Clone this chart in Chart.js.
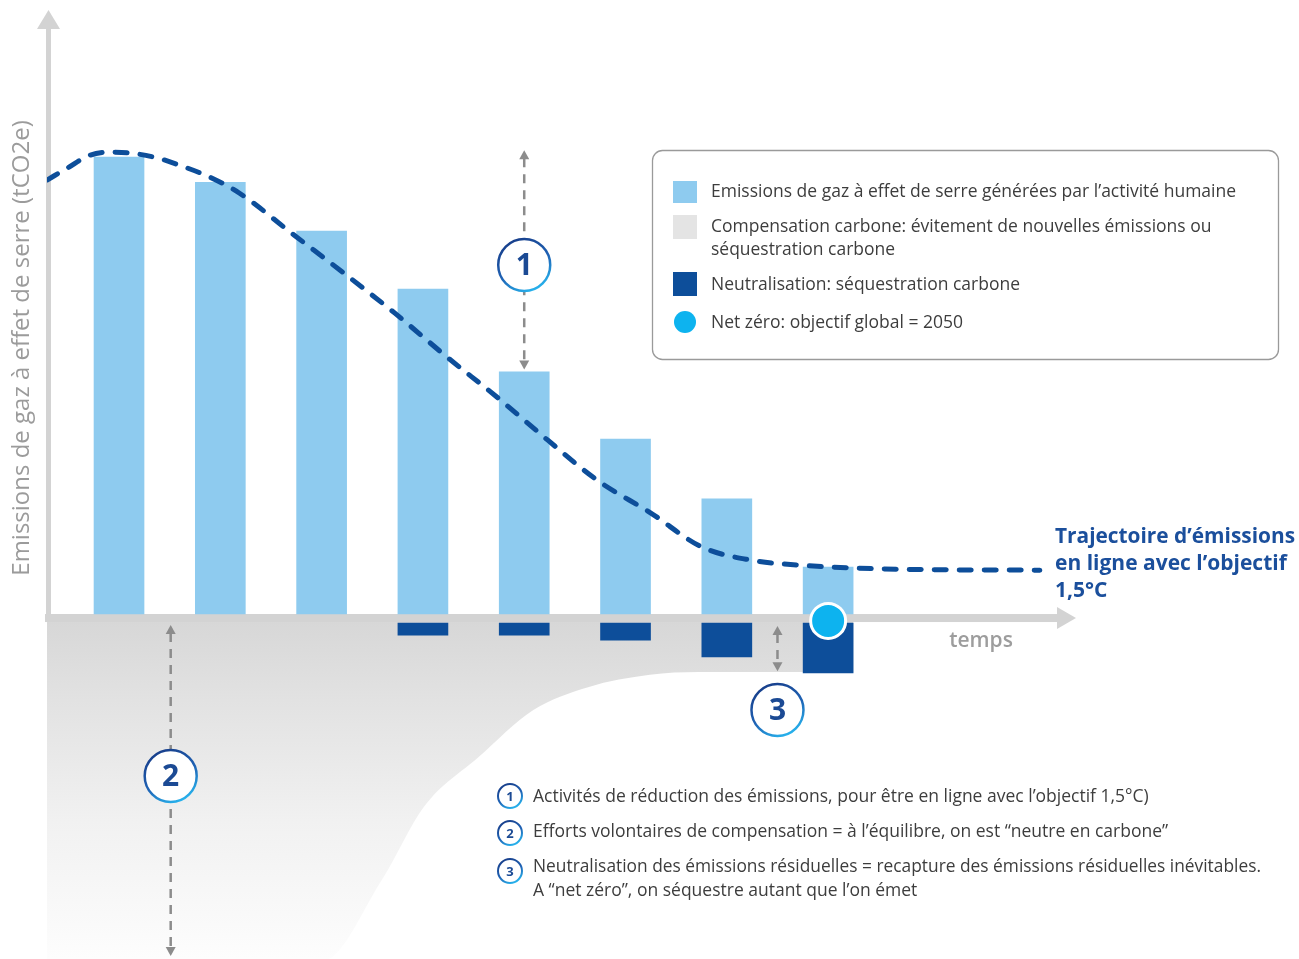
<!DOCTYPE html>
<html lang="fr">
<head>
<meta charset="utf-8">
<title>Trajectoire net zéro</title>
<script src="https://cdn.jsdelivr.net/npm/chart.js@4.4.1/dist/chart.umd.min.js"></script>
<style>
  html, body { margin: 0; padding: 0; background: #fff; }
  canvas { display: block; }
</style>
</head>
<body>
<canvas id="chart" width="1299" height="959"></canvas>
<script>
'use strict';

// time steps (one bar per step) and emissions (tallest bar = 100)
const steps = [0, 1, 2, 3, 4, 5, 6, 7];
const emissions = [100, 94.5, 83.8, 71.1, 53.0, 38.3, 25.2, 10.3];

// neutralisation bars (below the axis), start / end of each floating bar
const neutralStart = [null, null, null, -2.0, -2.0, -2.0, -2.0, -2.0];
const neutralEnd = [null, null, null, -4.6, -4.6, -5.7, -9.4, -12.9];

// 1.5°C trajectory (dashed line)
const trajX = [-0.71, -0.51, -0.29, -0.09, 0.11, 0.38, 0.60, 0.90, 1.19, 1.73, 2.22, 2.72, 3.24, 3.73, 4.23, 4.72, 5.25, 5.75, 6.24, 6.72, 7.71, 9.09];
const trajY = [95.0, 97.6, 100.4, 101.1, 100.9, 99.8, 98.2, 95.6, 92.1, 82.9, 74.6, 65.9, 56.2, 47.5, 38.1, 29.3, 22.1, 14.7, 11.8, 10.7, 9.8, 9.6];

// lower edge of the grey "compensation" area
const compX = [-0.711, 2.0, 2.6, 3.01, 3.55, 4.09, 4.63, 5.24, 5.72, 7.25];
const compY = [-76, -76, -58, -42.2, -31.3, -21.0, -16.0, -13.3, -12.7, -12.7];

// net zero point
const netZeroX = [7];
const netZeroY = [-1.5];

const legendLabels = [
  ['Emissions de gaz à effet de serre générées par l’activité humaine'],
  ['Compensation carbone: évitement de nouvelles émissions ou', 'séquestration carbone'],
  ['Neutralisation: séquestration carbone'],
  ['Net zéro: objectif global = 2050']
];
const notes = [
  ['Activités de réduction des émissions, pour être en ligne avec l’objectif 1,5°C)'],
  ['Efforts volontaires de compensation = à l’équilibre, on est “neutre en carbone”'],
  ['Neutralisation des émissions résiduelles = recapture des émissions résiduelles inévitables.', 'A “net zéro”, on séquestre autant que l’on émet']
];
const trajLabel = ['Trajectoire d’émissions', 'en ligne avec l’objectif', '1,5°C'];

const LIGHT = '#8ecbef';
const DARK = '#0d4e9a';
const CYAN = '#0db3ef';
const AXIS = '#d3d3d3';
const ARROW = '#8c8c8c';
const FONT = '"Open Sans", "Noto Sans", sans-serif';

function zip(xs, ys) {
  return xs.map((x, i) => ({ x: x, y: ys[i] }));
}

function txt(ctx, s, x, y, size, weight, color, maxW, align) {
  ctx.font = weight + ' ' + size + 'px ' + FONT;
  ctx.fillStyle = color;
  ctx.textAlign = align || 'left';
  ctx.textBaseline = 'middle';
  if (maxW) ctx.fillText(s, x, y, maxW);
  else ctx.fillText(s, x, y);
}

function badge(ctx, x, y, r, n, lw, size) {
  let g = ctx.createLinearGradient(x - r * 0.6, y - r, x + r * 0.4, y + r);
  g.addColorStop(0, '#173c88');
  g.addColorStop(0.55, '#1f62b4');
  g.addColorStop(1, '#27b4ee');
  ctx.beginPath();
  ctx.arc(x, y, r, 0, Math.PI * 2);
  ctx.fillStyle = '#fff';
  ctx.fill();
  ctx.lineWidth = lw;
  ctx.strokeStyle = g;
  ctx.stroke();
  txt(ctx, String(n), x, y + 1, size, 'bold', '#1b4a94', null, 'center');
}

function vArrow(ctx, x, y1, y2) {
  ctx.save();
  ctx.strokeStyle = ARROW;
  ctx.fillStyle = ARROW;
  ctx.lineWidth = 2.5;
  ctx.setLineDash([9, 7]);
  ctx.beginPath();
  ctx.moveTo(x, y1 + 8);
  ctx.lineTo(x, y2 - 8);
  ctx.stroke();
  ctx.setLineDash([]);
  ctx.beginPath();
  ctx.moveTo(x, y1); ctx.lineTo(x - 5, y1 + 9); ctx.lineTo(x + 5, y1 + 9); ctx.closePath();
  ctx.fill();
  ctx.beginPath();
  ctx.moveTo(x, y2); ctx.lineTo(x - 5, y2 - 9); ctx.lineTo(x + 5, y2 - 9); ctx.closePath();
  ctx.fill();
  ctx.restore();
}

function roundRect(ctx, x, y, w, h, r) {
  ctx.beginPath();
  ctx.moveTo(x + r, y);
  ctx.arcTo(x + w, y, x + w, y + h, r);
  ctx.arcTo(x + w, y + h, x, y + h, r);
  ctx.arcTo(x, y + h, x, y, r);
  ctx.arcTo(x, y, x + w, y, r);
  ctx.closePath();
}

// axes with arrow heads, drawn right after the grey area so they sit under the bars' marks
const axesPlugin = {
  id: 'axes',
  afterDatasetDraw(chart, args) {
    if (args.index !== 0) return;
    const ctx = chart.ctx;
    const y0 = chart.scales.y.getPixelForValue(0) + 4;
    ctx.save();
    ctx.fillStyle = AXIS;
    ctx.fillRect(46, 28, 5, y0 - 28 + 4);
    ctx.beginPath();
    ctx.moveTo(48.5, 10); ctx.lineTo(60, 29); ctx.lineTo(37, 29); ctx.closePath();
    ctx.fill();
    ctx.fillRect(45, y0 - 4, 1013, 8);
    ctx.beginPath();
    ctx.moveTo(1076, y0); ctx.lineTo(1057, y0 - 11); ctx.lineTo(1057, y0 + 11); ctx.closePath();
    ctx.fill();
    ctx.restore();
  }
};

// text, legend, numbered markers
const annotations = {
  id: 'annotations',
  afterDraw(chart) {
    const ctx = chart.ctx;
    const xs = chart.scales.x, ys = chart.scales.y;
    ctx.save();

    // y axis title
    ctx.save();
    ctx.translate(22, 348);
    ctx.rotate(-Math.PI / 2);
    txt(ctx, 'Emissions de gaz à effet de serre (tCO2e)', 0, 0, 24, 'normal', '#9b9b9b', 466, 'center');
    ctx.restore();

    txt(ctx, 'temps', 981, 641, 21, '600', '#9d9d9d', 70, 'center');

    trajLabel.forEach((s, i) => {
      txt(ctx, s, 1055, 537 + i * 27, 21, 'bold', '#1b4f9c', i < 2 ? 240 : 56);
    });

    // arrows + badges
    const ax1 = xs.getPixelForValue(4);
    vArrow(ctx, ax1, ys.getPixelForValue(101.5), ys.getPixelForValue(53.5));
    badge(ctx, ax1, 265, 26, 1, 2.5, 30);

    const ax2 = xs.getPixelForValue(0.51);
    vArrow(ctx, ax2, ys.getPixelForValue(-2.4), 956);
    badge(ctx, ax2, 776, 26, 2, 2.5, 30);

    const ax3 = xs.getPixelForValue(6.5);
    vArrow(ctx, ax3, ys.getPixelForValue(-2.6), ys.getPixelForValue(-12.5));
    badge(ctx, ax3, 710, 26, 3, 2.5, 30);

    // legend box
    roundRect(ctx, 652.5, 150.5, 626, 209, 10);
    ctx.fillStyle = '#fff';
    ctx.fill();
    ctx.lineWidth = 1.3;
    ctx.strokeStyle = '#9a9a9a';
    ctx.stroke();

    ctx.fillStyle = LIGHT;
    ctx.fillRect(673, 181, 24, 22);
    ctx.fillStyle = '#e4e4e4';
    ctx.fillRect(673, 215, 24, 24);
    ctx.fillStyle = DARK;
    ctx.fillRect(673, 272, 24, 24);
    ctx.beginPath();
    ctx.arc(685, 322, 11, 0, Math.PI * 2);
    ctx.fillStyle = CYAN;
    ctx.fill();

    const legY = [[192], [227, 250], [285], [323]];
    const legW = [[530], [503, 184], [309], [263]];
    legendLabels.forEach((lines, i) => {
      lines.forEach((s, j) => txt(ctx, s, 711, legY[i][j], 17.5, 'normal', '#3d3d3d', legW[i][j]));
    });

    // footnotes
    const noteY = [[797], [832], [867, 891]];
    const noteW = [[631], [651], [728, 399]];
    const iconY = [796, 833, 871];
    notes.forEach((lines, i) => {
      badge(ctx, 510, iconY[i], 12, i + 1, 2, 13);
      lines.forEach((s, j) => txt(ctx, s, 533, noteY[i][j], 17.5, 'normal', '#3d3d3d', noteW[i][j]));
    });

    ctx.restore();
  }
};

const ctx = document.getElementById('chart').getContext('2d');

new Chart(ctx, {
  type: 'bar',
  data: {
    datasets: [
      {
        // compensation area (grey, fading downwards)
        type: 'line',
        label: 'Compensation carbone',
        data: zip(compX, compY),
        borderWidth: 0,
        pointRadius: 0,
        cubicInterpolationMode: 'monotone',
        fill: { value: 0 },
        backgroundColor: (c) => {
          const area = c.chart.chartArea;
          if (!area) return '#e0e0e0';
          const top = c.chart.scales.y.getPixelForValue(0);
          let g = c.chart.ctx.createLinearGradient(0, top, 0, area.bottom);
          g.addColorStop(0, '#d6d6d6');
          g.addColorStop(0.25, '#e2e2e2');
          g.addColorStop(0.6, '#f1f1f1');
          g.addColorStop(1, '#fdfdfd');
          return g;
        },
        order: 6
      },
      {
        label: 'Emissions',
        data: zip(steps, emissions),
        backgroundColor: LIGHT,
        barThickness: 50,
        grouped: false,
        order: 5
      },
      {
        label: 'Neutralisation',
        data: steps.map((s, i) => ({ x: s, y: neutralStart[i] === null ? null : [neutralStart[i], neutralEnd[i]] })),
        backgroundColor: DARK,
        barThickness: 50,
        grouped: false,
        order: 4
      },
      {
        type: 'line',
        label: 'Trajectoire 1,5°C',
        data: zip(trajX, trajY),
        borderColor: DARK,
        borderWidth: 5,
        borderDash: [12, 13],
        borderCapStyle: 'round',
        pointRadius: 0,
        cubicInterpolationMode: 'monotone',
        fill: false,
        order: 3
      },
      {
        type: 'line',
        label: 'Net zéro',
        data: zip(netZeroX, netZeroY),
        showLine: false,
        pointRadius: 17.5,
        pointBackgroundColor: CYAN,
        pointBorderColor: '#fff',
        pointBorderWidth: 3,
        order: 1
      }
    ]
  },
  options: {
    responsive: false,
    animation: false,
    events: [],
    layout: { autoPadding: false, padding: { left: 47, right: 224, top: 10, bottom: 0 } },
    scales: {
      x: { type: 'linear', min: -0.711, max: 9.437, offset: false, display: false },
      y: { min: -75.5, max: 132.2, display: false }
    },
    plugins: {
      legend: { display: false },
      tooltip: { enabled: false }
    }
  },
  plugins: [axesPlugin, annotations]
});
</script>
</body>
</html>
